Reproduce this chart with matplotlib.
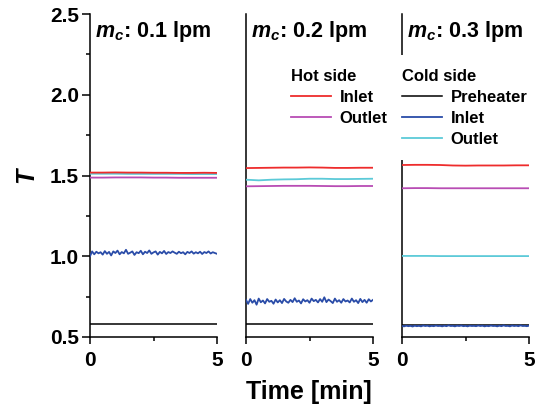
import numpy as np
import matplotlib
matplotlib.use('Agg')
import matplotlib.pyplot as plt
from matplotlib.lines import Line2D

plt.rcParams['font.family'] = ['Liberation Sans', 'DejaVu Sans']
plt.rcParams['font.weight'] = 'bold'
plt.rcParams['mathtext.fontset'] = 'custom'
plt.rcParams['mathtext.it'] = 'Liberation Sans:italic:bold'
plt.rcParams['mathtext.rm'] = 'Liberation Sans:bold'

# 流量 (lpm)
flows = ['0.1', '0.2', '0.3']

# 平稳曲线: 0..5 min, 11 个点
t_flat = np.linspace(0, 5, 11)
hot_in = [
    [1.518, 1.518, 1.519, 1.518, 1.518, 1.517, 1.517, 1.516, 1.516, 1.517, 1.516],
    [1.546, 1.547, 1.548, 1.549, 1.549, 1.550, 1.549, 1.547, 1.547, 1.548, 1.548],
    [1.565, 1.566, 1.566, 1.565, 1.562, 1.561, 1.562, 1.562, 1.562, 1.563, 1.563],
]
hot_out = [
    [1.487, 1.487, 1.488, 1.488, 1.488, 1.487, 1.487, 1.486, 1.486, 1.486, 1.486],
    [1.433, 1.434, 1.435, 1.436, 1.436, 1.436, 1.435, 1.434, 1.434, 1.435, 1.435],
    [1.421, 1.422, 1.422, 1.421, 1.421, 1.421, 1.421, 1.421, 1.421, 1.421, 1.421],
]
cold_out = [
    [1.511, 1.511, 1.511, 1.510, 1.510, 1.510, 1.510, 1.510, 1.509, 1.509, 1.509],
    [1.474, 1.470, 1.474, 1.476, 1.477, 1.480, 1.480, 1.478, 1.478, 1.479, 1.480],
    [1.002, 1.002, 1.002, 1.001, 1.001, 1.001, 1.001, 1.001, 1.001, 1.001, 1.001],
]
preheater = [0.579, 0.579, 0.576]

# 冷侧入口 (有噪声), 61 个点
t_noisy = np.linspace(0, 5, 61)
cold_in = [
    [1.000, 1.030, 1.012, 1.028, 1.018, 1.025, 1.010, 1.032, 1.015, 1.027,
     1.005, 1.030, 1.020, 1.035, 1.012, 1.026, 1.018, 1.040, 1.015, 1.022,
     1.030, 1.008, 1.025, 1.019, 1.034, 1.012, 1.028, 1.020, 1.036, 1.015,
     1.024, 1.030, 1.010, 1.027, 1.018, 1.033, 1.014, 1.026, 1.020, 1.030,
     1.022, 1.015, 1.028, 1.019, 1.025, 1.012, 1.027, 1.020, 1.030, 1.016,
     1.025, 1.018, 1.028, 1.014, 1.026, 1.020, 1.030, 1.017, 1.025, 1.020,
     1.015],
    [0.730, 0.705, 0.735, 0.712, 0.728, 0.700, 0.738, 0.715, 0.726, 0.708,
     0.735, 0.718, 0.724, 0.706, 0.732, 0.714, 0.728, 0.710, 0.736, 0.720,
     0.712, 0.730, 0.716, 0.740, 0.718, 0.726, 0.708, 0.734, 0.720, 0.728,
     0.712, 0.738, 0.722, 0.730, 0.714, 0.735, 0.718, 0.746, 0.716, 0.732,
     0.722, 0.710, 0.738, 0.718, 0.728, 0.712, 0.735, 0.720, 0.726, 0.714,
     0.738, 0.718, 0.728, 0.710, 0.736, 0.716, 0.730, 0.712, 0.734, 0.720,
     0.730],
    [0.568, 0.566, 0.570, 0.567, 0.569, 0.565, 0.570, 0.567, 0.569, 0.566,
     0.571, 0.568, 0.570, 0.566, 0.569, 0.567, 0.571, 0.568, 0.569, 0.566,
     0.570, 0.567, 0.572, 0.568, 0.569, 0.566, 0.570, 0.568, 0.571, 0.567,
     0.569, 0.566, 0.570, 0.568, 0.569, 0.567, 0.571, 0.568, 0.570, 0.566,
     0.569, 0.567, 0.571, 0.568, 0.569, 0.566, 0.570, 0.567, 0.572, 0.568,
     0.569, 0.566, 0.571, 0.568, 0.570, 0.567, 0.572, 0.568, 0.569, 0.567,
     0.570],
]

c_hot_in = '#ee2c2c'
c_hot_out = '#b84cb4'
c_cold_out = '#5ccad8'
c_cold_in = '#2a4ca8'
c_pre = 'black'

fig = plt.figure(figsize=(5.43, 4.16), dpi=100)
W, H = 543, 416
lefts = [90, 246, 402]
lw = 1.3
axes = []
for i, x0 in enumerate(lefts):
    ax = fig.add_axes([x0 / W, 1 - 337 / H, 127 / W, 323 / H])
    axes.append(ax)
    # 线画在图例框之上, 脊线画在图例框之下
    ax.plot(t_flat, [preheater[i]] * len(t_flat), color=c_pre, lw=1.1, zorder=6)
    ax.plot(t_noisy, cold_in[i], color=c_cold_in, lw=lw, zorder=6)
    ax.plot(t_flat, cold_out[i], color=c_cold_out, lw=lw, zorder=6)
    ax.plot(t_flat, hot_out[i], color=c_hot_out, lw=lw, zorder=6)
    ax.plot(t_flat, hot_in[i], color=c_hot_in, lw=lw, zorder=6)
    ax.set_xlim(0, 5)
    ax.set_ylim(0.5, 2.5)
    ax.set_xticks([0, 5])
    ax.set_xticks([2.5], minor=True)
    ax.spines['top'].set_visible(False)
    ax.spines['right'].set_visible(False)
    ax.spines['left'].set_linewidth(1.1)
    ax.spines['bottom'].set_linewidth(1.1)
    ax.tick_params(axis='x', which='major', length=5, width=1.1, pad=5, labelsize=15)
    ax.tick_params(axis='x', which='minor', length=3, width=1.1)
    if i == 0:
        ax.set_yticks([0.5, 1.0, 1.5, 2.0, 2.5])
        ax.set_yticklabels(['0.5', '1.0', '1.5', '2.0', '2.5'])
        ax.set_yticks([0.75, 1.25, 1.75, 2.25], minor=True)
        ax.tick_params(axis='y', which='major', length=6, width=1.1, pad=2, labelsize=15)
        ax.tick_params(axis='y', which='minor', length=3, width=1.1)
        ax.set_ylabel('T', fontsize=18, fontstyle='italic', fontweight='bold', labelpad=8)
    else:
        ax.set_yticks([])
    ax.text(0.04, 0.985, r'$m_c$: ' + flows[i] + ' lpm', transform=ax.transAxes,
            ha='left', va='top', fontsize=15.5, fontweight='bold')

hot_handles = [Line2D([], [], color=c_hot_in, lw=lw), Line2D([], [], color=c_hot_out, lw=lw)]
leg1 = axes[1].legend(hot_handles, ['Inlet', 'Outlet'], title='Hot side',
                      loc='upper left', bbox_to_anchor=(269 / W, 1 - 47 / H),
                      bbox_transform=fig.transFigure, frameon=False,
                      fontsize=12, title_fontproperties={'size': 12, 'weight': 'bold'},
                      handlelength=2.4, handletextpad=0.55, labelspacing=0.36,
                      borderpad=0.8, alignment='left')
cold_handles = [Line2D([], [], color=c_pre, lw=1.1), Line2D([], [], color=c_cold_in, lw=lw),
                Line2D([], [], color=c_cold_out, lw=lw)]
leg2 = axes[2].legend(cold_handles, ['Preheater', 'Inlet', 'Outlet'], title='Cold side',
                      loc='upper left', bbox_to_anchor=(380 / W, 1 - 47 / H),
                      bbox_transform=fig.transFigure, frameon=True, fancybox=False,
                      facecolor='white', edgecolor='none', framealpha=1,
                      fontsize=12, title_fontproperties={'size': 12, 'weight': 'bold'},
                      handlelength=2.4, handletextpad=0.55, labelspacing=0.36,
                      borderpad=0.8, alignment='left')

fig.text(309 / W, 1 - 392 / H, 'Time [min]', ha='center', va='center',
         fontsize=18, fontweight='bold')

fig.savefig('out.png', dpi=100)
